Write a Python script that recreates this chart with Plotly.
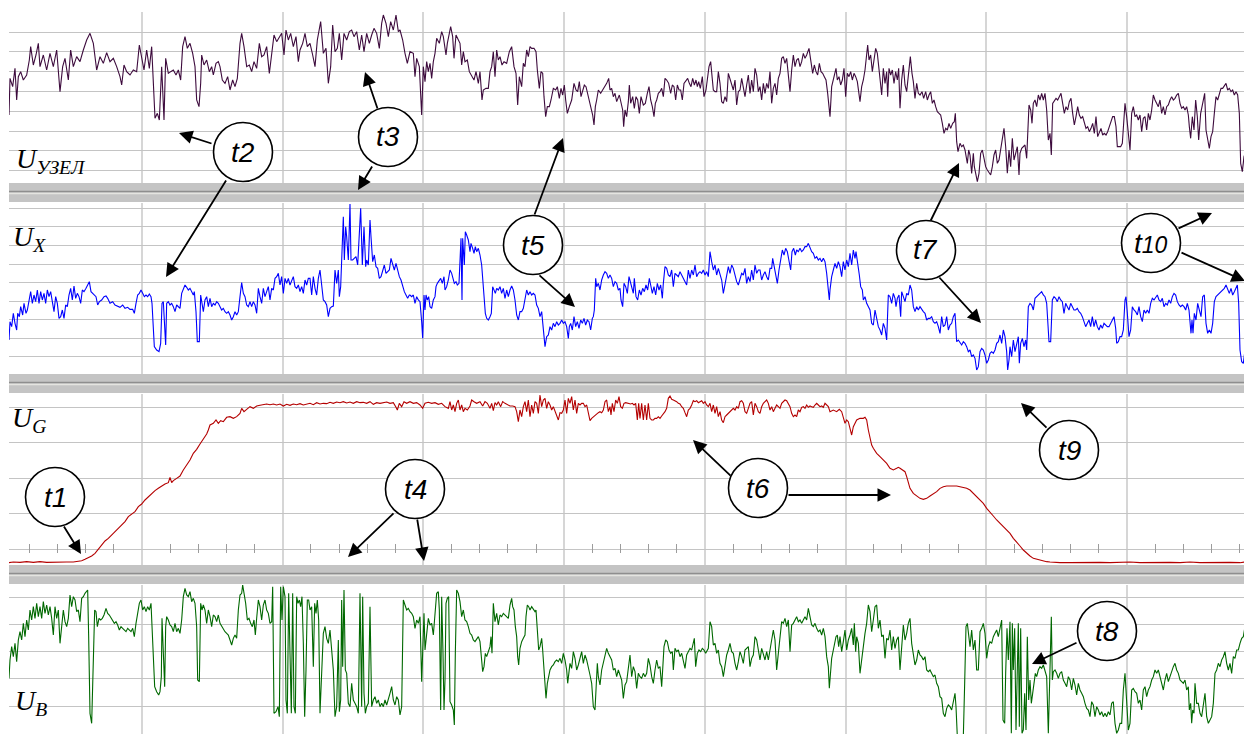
import plotly.graph_objects as go

# ---------------- data (time in samples, levels in arbitrary units) ----------------
UZEL = [(27,204),(30,314),(38,289),(45,344),(50,249),(55,319),(62,334),(70,309),(80,324),(88,369),(92,409),(100,354),(108,384),(115,419),(120,349),(130,384),(140,339),(150,389),(160,349),(170,399),(180,274),(188,349),(195,374),(205,309),(212,399),(220,349),(230,379),(240,364),(250,399),(260,429),(270,449),(280,419),(290,339),(300,379),(310,359),(320,391),(330,364),(340,374),(350,349),(360,319),(365,294),(372,354),(380,334),(390,324),(400,339),(410,334),(418,414),(425,379),(432,339),(440,399),(448,344),(455,409),(460,289),(465,194),(472,209),(478,189),(485,349),(492,189),(497,374),(505,329),(512,334),(520,339),(528,324),(535,339),(542,309),(548,409),(555,439),(562,404),(570,419),(578,389),(585,349),(590,249),(597,229),(602,299),(605,384),(612,354),(620,369),(628,334),(635,349),(640,324),(648,359),(655,364),(660,349),(667,309),(675,299),(683,319),(690,279),(698,309),(705,289),(712,314),(720,419),(725,449),(732,409),(740,349),(748,354),(755,334),(762,364),(770,344),(778,419),(785,379),(792,384),(800,409),(808,329),(815,389),(822,444),(830,424),(838,439),(845,449),(852,384),(858,459),(865,429),(872,449),(880,409),(888,439),(895,364),(900,399),(908,419),(915,449),(922,409),(930,419),(938,384),(945,349),(952,429),(962,484),(970,389),(978,404),(985,299),(992,349),(998,474),(1005,394),(1012,404),(1018,449),(1025,369),(1032,449),(1040,429),(1048,454),(1055,459),(1062,439),(1070,454),(1078,399),(1085,444),(1092,394),(1100,449),(1108,419),(1115,444),(1122,464),(1130,449),(1138,404),(1145,479),(1150,504),(1158,479),(1165,439),(1172,484),(1180,459),(1188,504),(1195,454),(1200,459),(1208,429),(1215,389),(1222,359),
(1230,394),(1240,389),(1245,319),(1250,374),(1258,349),(1265,204),(1270,349),(1275,304),(1280,364),(1285,334),(1290,359),(1295,314),(1300,364),(1305,389),(1310,434),(1318,419),(1325,454),(1330,439),(1338,384),(1342,419),(1348,449),(1352,469),(1358,439),(1362,374),(1368,444),(1375,429),(1380,419),(1385,354),(1390,394),(1395,364),(1402,369),(1408,334),(1415,319),(1422,309),(1428,334),(1435,299),(1440,334),(1446,249),(1450,279),(1458,284),(1465,284),(1470,334),(1475,349),(1480,394),(1485,319),(1490,399),(1495,369),(1500,379),(1506,354),(1512,364),(1520,359),(1528,394),(1535,409),(1542,349),(1548,329),(1553,234),(1558,319),(1565,289),(1570,359),(1575,349),(1580,399),(1585,379),(1590,409),(1595,404),(1602,404),(1608,394),(1612,339),(1618,284),(1623,334),(1628,329),(1632,259),(1637,199),(1642,229),(1648,229),(1653,249),(1660,284),(1667,279),(1672,289),(1678,254),(1683,284),(1688,264),(1693,294),(1697,249),(1702,209),(1708,229),(1715,249),(1722,299),(1728,279),(1733,274),(1738,304),(1743,259),(1748,274),(1753,294),(1758,289),(1763,269),(1768,249),(1773,224),(1778,204),(1782,174),(1786,229),(1790,249),(1795,279),(1802,269),(1808,279),(1813,289),(1820,299),(1826,314),(1830,279),(1835,284),(1840,259),(1845,269),(1850,244),(1858,264),(1863,244),(1868,219),(1871,169),(1875,219),(1880,199),(1885,244),(1888,294),(1892,239),(1898,259),(1903,224),(1908,259),(1913,249),(1918,209),(1923,259),(1930,234),(1936,239),(1942,269),(1947,289),(1952,249),(1957,229),(1962,199),(1966,239),(1970,249),(1975,269),(1980,274),(1985,284),(1990,259),(1995,314),(2000,309),(2006,299),(2012,269),(2017,294),(2022,289),(2027,249),(2032,294),(2037,279),(2042,279),(2047,249),(2052,299),(2058,309),(2063,314),(2068,299),(2073,289),(2078,314),(2083,294),(2088,309),(2092,289),(2096,304),(2101,284),(2107,319),(2112,259),(2118,279),(2123,314),(2127,349),(2132,364),(2136,324),(2140,279),(2145,274),(2150,274),(2155,334),(2160,299),(2165,244),(2170,239),(2175,259),(2180,244),(2185,329),(2190,314),(2195,299),(2200,279),(2205,309),(2210,234),(2215,274),(2220,279),(2225,314),(2230,284),(2235,259),(2240,294),(2245,324),(2250,269),(2255,309),(2260,274),(2265,344),(2270,324),(2275,274),(2280,289),(2285,249),(2290,299),(2295,269),(2300,299),(2305,284),(2310,334),(2315,239),(2320,284),(2325,299),(2330,264),(2335,314),(2340,329),(2345,374),(2350,379),(2355,359),(2360,374),(2365,314),(2370,274),(2375,339),(2380,384),(2385,349),(2390,369),(2395,374),(2400,349),(2405,364),(2410,389),(2415,374),(2420,384),(2427,404),(2433,369),(2438,329),(2443,354),(2448,334),(2453,324),(2458,359),(2463,334),(2468,329),(2473,319),(2478,309),(2483,269),(2488,204),
(2490,199),(2495,289),(2500,309),(2505,324),(2508,344),(2512,309),(2517,319),(2522,294),(2527,309),(2532,344),(2537,259),(2542,329),(2547,319),(2552,334),(2557,309),(2562,329),(2567,319),(2572,304),(2577,269),(2580,244),(2585,289),(2590,309),(2595,339),(2600,379),(2603,414),(2607,369),(2612,384),(2617,334),(2622,364),(2627,404),(2632,389),(2637,349),(2642,294),(2645,264),(2650,344),(2655,299),(2660,334),(2663,259),(2667,344),(2672,324),(2677,339),(2682,299),(2687,334),(2692,309),(2696,344),(2700,224),(2705,309),(2710,354),(2715,294),(2720,274),(2726,329),(2731,379),(2736,329),(2740,304),(2745,254),(2750,299),(2755,269),(2760,264),(2766,274),(2771,254),(2777,274),(2782,249),(2787,264),(2792,274),(2797,239),(2802,249),(2807,229),(2812,214),(2817,209),(2822,204),(2827,179),(2832,149),(2837,164),(2842,159),(2847,179),(2852,164),(2858,179),(2863,184),(2866,209),(2870,124),(2874,94),(2880,119),(2885,109),(2890,114),(2895,99),(2898,79),(2902,59),(2906,99),(2910,84),(2915,29),(2920,89),(2923,49),(2927,24),(2932,4),(2937,29),(2942,89),(2947,99),(2952,74),(2957,49),(2962,39),(2968,29),(2972,24),(2977,49),(2982,84),(2987,99),(2992,59),(2997,69),(3002,104),(3007,134),(3012,164),(3017,109),(3022,29),(3027,99),(3032,49),(3037,134),(3042,69),(3047,89),(3052,109),(3057,24),(3060,89),(3065,104),(3070,109),(3075,114),(3080,74),(3083,149),(3087,234),(3092,219),(3096,179),(3100,239),(3105,249),(3110,229),(3115,264),(3120,249),(3125,269),(3130,249),(3135,269),(3140,219),(3145,129),(3150,149),(3154,84),(3158,239),(3163,249),(3168,254),(3173,249),(3178,259),(3183,269),(3188,239),(3193,209),(3198,229),(3203,219),(3208,244),(3213,254),(3218,209),(3223,174),(3228,199),(3233,229),(3238,204),(3243,194),(3248,199),(3253,179),(3258,164),(3263,169),(3268,154),(3273,164),(3278,179),(3283,149),(3288,199),(3293,139),(3298,154),(3303,164),(3308,144),(3313,149),(3318,144),(3323,154),(3328,169),(3333,184),(3338,199),(3343,199),(3348,169),(3352,109),(3357,109),(3362,109),(3367,119),(3372,209),(3375,239),(3380,199),(3385,149),(3390,99),(3395,209),(3400,229),(3405,199),(3410,204),(3415,189),(3420,204),(3425,154),(3430,194),(3435,199),(3440,159),(3445,209),(3450,189),(3455,219),(3460,264),(3465,249),(3470,239),(3475,229),(3480,249),(3485,209),(3490,229),(3495,204),(3500,229),(3505,234),(3510,249),(3515,259),(3520,249),(3525,254),(3530,264),(3535,269),(3540,239),(3545,224),(3550,229),(3555,219),(3560,229),(3565,204),(3568,169),(3572,134),(3577,199),(3582,159),(3587,249),(3592,199),(3596,129),(3602,209),(3608,239),(3614,269),(3618,159),(3623,129),(3628,104),(3633,139),(3638,154),(3643,209),(3648,259),(3653,249),(3658,264),(3663,284),(3668,284),(3673,294),(3678,299),(3683,279),(3688,284),(3693,274),(3698,279),(3703,264),(3708,274),(3713,264),(3718,209),(3722,59),(3727,34),(3732,79),(3737,94),(3742,139),(3747,239),(3752,229),(3756,204)]

UX = [(27,102),(30,157),(35,142),(40,182),(45,152),(50,132),(53,182),(58,172),(62,202),(68,177),(72,212),(78,182),(82,192),(88,232),(92,247),(97,212),(102,237),(107,217),(112,252),(117,212),(122,247),(127,222),(132,242),(137,212),(142,252),(147,232),(152,247),(157,217),(162,187),(167,232),(172,212),(177,167),(182,172),(187,192),(192,167),(197,207),(202,202),(207,237),(212,257),(217,222),(222,264),(227,227),(232,242),(237,232),(242,212),(247,252),(252,247),(258,257),(263,267),(268,277),(273,247),(278,242),(283,237),(288,232),(293,207),(298,217),(305,222),(312,232),(318,234),(323,227),(330,212),(338,217),(345,207),(352,204),(360,200),(368,207),(375,197),(383,200),(390,194),(398,194),(403,182),(408,212),(413,237),(418,242),(423,252),(428,242),(433,232),(438,237),(443,232),(448,240),(453,232),(456,212),(460,152),(463,82),(470,72),(477,67),(482,92),(486,212),(490,217),(494,152),(497,87),(500,212),(505,217),(510,207),(515,212),(520,202),(525,187),(530,207),(535,202),(540,197),(545,242),(550,257),(555,267),(560,260),(565,252),(570,257),(575,244),(580,237),(583,247),(588,187),(592,97),(598,97),(602,237),(605,217),(610,187),(615,222),(620,232),(625,202),(630,227),(635,202),(640,212),(645,207),(650,217),(655,212),(660,202),(665,192),(670,197),(675,187),(680,182),(685,187),(690,177),(695,162),(700,172),(705,187),(710,177),(715,187),(720,232),(725,274),(730,242),(735,232),(740,207),(745,202),(750,217),(755,202),(760,217),(765,207),(770,182),(775,257),(780,232),(785,212),(790,257),(795,232),(800,247),(805,262),(810,222),(815,257),(820,252),(825,287),(830,292),(835,302),(840,267),(845,292),(850,242),(855,287),(860,272),(865,287),(870,267),(875,282),(880,292),(885,262),(890,257),(895,267),(900,247),(905,262),(910,242),(915,282),(920,267),(925,287),(930,287),(935,237),(940,292),(945,257),(950,237),(955,287),(960,312),(965,267),(970,222),(975,217),(980,207),(985,172),(990,197),(995,202),(1000,204),(1005,312),(1010,272),(1015,312),(1018,232),(1022,262),(1027,367),(1030,472),(1033,342),(1037,442),(1040,412),(1045,342),(1050,510),(1053,342),(1058,342),(1063,347),(1068,352),(1073,327),(1078,407),(1082,497),(1087,327),(1092,442),(1097,322),(1100,342),(1105,327),(1110,462),(1113,412),(1118,337),(1123,357),(1128,322),(1133,317),(1138,287),(1143,292),(1148,312),(1153,327),(1158,302),(1163,307),(1168,312),(1173,347),(1178,332),(1183,312),(1188,332),(1193,312),(1198,292),(1203,282),(1208,262),(1213,247),(1218,237),(1223,227),(1228,237),
(1230,237),(1235,232),(1240,237),(1245,212),(1250,232),(1255,222),(1260,217),(1265,157),(1268,107),(1272,237),(1275,192),(1278,237),(1282,222),(1286,232),(1290,202),(1295,197),(1300,222),(1305,232),(1308,262),(1312,272),(1317,282),(1322,287),(1327,272),(1332,292),(1335,252),(1340,262),(1345,282),(1350,312),(1355,302),(1360,287),(1363,272),(1368,277),(1372,267),(1377,272),(1380,322),(1383,407),(1386,222),(1388,407),(1393,327),(1396,427),(1400,417),(1405,402),(1410,367),(1413,392),(1418,377),(1422,362),(1426,382),(1430,367),(1435,377),(1440,357),(1445,327),(1448,287),(1452,257),(1456,182),(1460,167),(1465,162),(1470,172),(1474,182),(1478,262),(1482,252),(1486,242),(1490,257),(1495,252),(1500,262),(1505,242),(1510,257),(1515,227),(1520,252),(1525,232),(1530,252),(1535,264),(1540,252),(1545,222),(1550,177),(1555,162),(1560,187),(1565,187),(1570,197),(1575,222),(1580,252),(1585,237),(1590,247),(1595,237),(1600,242),(1605,237),(1610,207),(1615,197),(1620,172),(1625,187),(1630,142),(1635,82),(1640,112),(1645,117),(1650,142),(1655,132),(1660,152),(1665,142),(1670,157),(1675,147),(1680,152),(1685,162),(1690,152),(1695,157),(1700,142),(1705,107),(1708,142),(1712,152),(1717,132),(1722,172),(1727,142),(1732,157),(1737,137),(1742,162),(1747,152),(1752,167),(1757,147),(1762,162),(1767,157),(1772,132),(1777,167),(1780,172),(1783,192),(1787,287),(1790,262),(1795,272),(1800,252),(1805,282),(1810,297),(1815,307),(1820,302),(1825,287),(1830,297),(1835,287),(1840,262),(1845,277),(1850,272),(1855,252),(1860,257),(1863,222),(1868,202),(1872,272),(1877,262),(1882,242),(1887,292),(1890,282),(1895,262),(1900,242),(1903,287),(1908,232),(1913,222),(1918,252),(1923,237),(1928,257),(1933,247),(1938,267),(1943,252),(1948,287),(1952,267),(1957,242),(1962,262),(1967,237),(1972,272),(1977,252),(1982,267),(1987,227),(1990,272),(1995,322),(2000,317),(2005,297),(2010,292),(2015,312),(2020,262),(2025,302),(2030,297),(2035,292),(2040,307),(2045,297),(2050,292),(2055,282),(2060,267),(2065,312),(2070,287),(2075,312),(2080,297),(2085,327),(2090,292),(2095,302),(2100,307),(2105,302),(2110,312),(2115,297),(2120,307),(2125,292),(2130,367),(2135,337),(2140,312),(2145,327),(2150,297),(2155,317),(2160,302),(2165,282),(2170,242),(2175,272),(2180,297),(2185,322),(2190,302),(2195,327),(2200,317),(2205,292),(2210,277),(2215,267),(2220,287),(2225,302),(2230,297),(2235,317),(2240,272),(2245,292),(2250,277),(2255,312),(2260,282),(2265,327),(2270,302),(2275,312),(2280,312),(2285,282),(2290,297),(2295,307),(2300,292),(2305,282),(2310,317),(2315,317),(2318,347),(2322,322),(2327,292),(2332,272),(2337,312),(2342,342),(2347,372),(2352,357),(2357,377),(2362,367),(2367,342),(2372,312),(2376,367),(2381,377),(2386,357),(2390,372),(2395,367),(2400,377),(2405,367),(2410,372),(2415,382),(2420,382),(2425,392),(2430,377),(2435,367),(2440,362),(2445,347),(2450,352),(2455,342),(2460,347),(2465,337),(2470,347),(2475,337),(2480,302),(2485,262),(2488,222),
(2490,252),(2495,292),(2500,312),(2505,332),(2510,317),(2515,337),(2520,322),(2525,292),(2530,337),(2535,312),(2540,342),(2545,322),(2550,362),(2555,327),(2560,372),(2565,347),(2568,367),(2573,322),(2578,297),(2582,262),(2587,252),(2590,222),(2595,232),(2600,212),(2605,202),(2610,192),(2615,152),(2620,147),(2625,192),(2630,167),(2635,142),(2640,132),(2645,117),(2650,152),(2655,137),(2660,102),(2665,237),(2670,232),(2675,212),(2680,242),(2685,227),(2688,202),(2692,227),(2697,237),(2702,172),(2705,247),(2710,232),(2715,217),(2720,242),(2725,237),(2730,267),(2735,252),(2740,202),(2745,187),(2750,202),(2755,192),(2760,202),(2765,192),(2770,187),(2775,182),(2780,162),(2785,167),(2790,167),(2795,172),(2800,157),(2805,152),(2810,157),(2815,142),(2820,122),(2825,172),(2830,142),(2835,147),(2840,172),(2845,132),(2850,147),(2855,152),(2860,172),(2865,182),(2870,97),(2875,102),(2880,92),(2885,87),(2890,97),(2895,92),(2900,82),(2905,67),(2910,72),(2915,52),(2920,57),(2925,47),(2930,12),(2935,22),(2940,67),(2945,77),(2950,72),(2955,57),(2960,32),(2965,42),(2970,62),(2975,67),(2980,62),(2985,72),(2990,92),(2995,97),(3000,117),(3005,92),(3010,132),(3015,112),(3020,67),(3023,12),(3027,42),(3030,82),(3035,52),(3040,102),(3045,67),(3050,92),(3055,112),(3058,32),(3062,92),(3067,107),(3072,82),(3077,102),(3080,72),(3085,202),(3090,212),(3095,207),(3100,192),(3105,227),(3110,232),(3115,237),(3120,242),(3125,247),(3130,237),(3135,232),(3140,212),(3143,142),(3147,97),(3152,97),(3157,222),(3162,232),(3167,227),(3172,217),(3177,232),(3182,222),(3187,217),(3192,182),(3197,212),(3202,202),(3207,192),(3212,212),(3217,202),(3222,192),(3227,192),(3232,197),(3237,187),(3242,182),(3247,172),(3252,157),(3257,142),(3262,152),(3267,162),(3272,142),(3277,172),(3282,142),(3287,162),(3292,142),(3297,132),(3302,147),(3307,137),(3312,152),(3317,147),(3322,142),(3327,142),(3332,152),(3337,162),(3342,172),(3347,137),(3350,92),(3355,97),(3360,112),(3365,112),(3370,132),(3375,222),(3378,232),(3382,182),(3387,112),(3392,132),(3397,202),(3402,192),(3407,187),(3412,177),(3417,202),(3422,172),(3427,157),(3432,192),(3437,182),(3442,192),(3447,182),(3452,212),(3457,227),(3462,222),(3467,232),(3472,237),(3477,222),(3482,217),(3487,227),(3492,202),(3497,212),(3502,207),(3507,222),(3512,212),(3517,232),(3522,242),(3527,237),(3532,217),(3537,207),(3542,202),(3547,207),(3552,202),(3557,192),(3562,212),(3567,192),(3570,152),(3573,122),(3576,162),(3579,122),(3583,182),(3588,162),(3593,212),(3598,192),(3603,172),(3608,232),(3613,237),(3618,152),(3623,122),(3628,132),(3633,122),(3638,152),(3643,217),(3648,232),(3653,237),(3658,242),(3663,247),(3668,252),(3673,257),(3678,267),(3683,252),(3688,242),(3693,257),(3698,237),(3703,247),(3708,257),(3712,267),(3716,212),(3720,72),(3725,37),(3730,32),(3735,72),(3740,77),(3745,202),(3752,227),(3756,232)]

UG = [(27,7),(40,9),(60,8),(80,10),(100,8),(120,10),(140,8),(160,9),(180,8),(200,9),(220,9),(235,11),(245,13),(255,17),(265,22),(275,27),(285,35),(295,48),(305,60),(315,72),(325,80),(335,90),(345,97),(355,107),(365,120),(375,130),(385,145),(395,153),(405,160),(415,175),(425,183),(435,195),(445,205),(455,213),(465,223),(475,230),(485,237),(495,243),(505,247),(510,263),(515,247),(520,253),(530,260),(540,267),(550,285),(560,300),(570,315),(580,335),(590,347),(600,363),(610,377),(620,393),(625,405),(630,420),(640,425),(648,435),(655,425),(662,433),(670,430),(680,443),(690,445),(700,440),(710,445),(720,455),(725,470),(732,460),(740,467),(750,475),(760,470),(770,477),(780,479),(790,482),(800,483),(810,481),(820,483),(830,480),(840,483),(850,477),(860,482),(870,479),(880,483),(890,481),(900,484),(910,480),(920,482),(930,485),(940,481),(950,487),(960,483),(970,485),(980,484),(990,488),(1000,485),(1010,489),(1020,487),(1030,490),(1040,486),(1050,489),(1060,485),(1070,490),(1080,487),(1090,488),(1100,485),(1110,490),(1120,482),(1130,487),(1140,485),(1150,488),(1160,489),(1170,485),(1180,487),(1188,473),(1192,465),(1198,485),(1205,475),(1212,490),(1220,485),
(1230,490),(1240,485),(1250,487),(1260,480),(1268,470),(1275,485),(1285,488),(1295,485),(1305,487),(1315,482),(1325,485),(1335,475),(1345,470),(1350,490),(1355,465),(1360,480),(1365,460),(1370,485),(1375,495),(1380,465),(1385,480),(1390,460),(1395,470),(1402,465),(1410,477),(1415,495),(1422,490),(1430,485),(1440,490),(1448,477),(1455,490),(1462,485),(1470,470),(1475,485),(1480,463),(1485,487),(1490,480),(1495,490),(1502,475),(1508,490),(1515,485),(1522,480),(1530,477),(1538,477),(1545,475),(1550,460),(1555,430),(1560,465),(1565,445),(1570,475),(1575,490),(1580,460),(1585,495),(1590,445),(1595,480),(1600,455),(1605,490),(1610,485),(1615,455),(1620,510),(1625,475),(1630,495),(1635,500),(1640,470),(1645,490),(1650,480),(1655,465),(1660,475),(1665,460),(1670,445),(1675,435),(1680,457),(1685,455),(1690,465),(1695,495),(1700,455),(1705,500),(1710,485),(1715,505),(1720,465),(1725,495),(1730,455),(1735,485),(1740,480),(1745,485),(1750,485),(1755,475),(1760,480),(1765,455),(1770,433),(1775,440),(1780,445),(1785,450),(1790,453),(1795,457),(1800,460),(1805,457),(1810,465),(1815,490),(1820,495),(1825,460),(1830,475),(1833,450),(1837,485),(1842,460),(1847,495),(1852,485),(1857,505),(1862,475),(1867,470),(1872,485),(1877,487),(1882,485),(1887,485),(1892,483),(1897,485),(1902,480),(1907,485),(1912,435),(1916,485),(1920,440),(1925,485),(1930,435),(1935,480),(1940,435),(1945,485),(1950,440),(1955,435),(1960,435),(1965,440),(1970,440),(1975,445),(1980,440),(1985,447),(1990,453),(1995,460),(2000,470),(2005,500),(2010,507),(2015,497),(2020,495),(2025,493),(2030,490),(2035,485),(2040,483),(2045,475),(2050,470),(2055,457),(2060,445),(2065,465),(2070,470),(2075,480),(2080,493),(2085,490),(2090,493),(2095,487),(2100,490),(2105,493),(2110,485),(2115,490),(2120,480),(2125,475),(2130,485),(2135,460),(2140,480),(2145,455),(2150,475),(2155,445),(2160,460),(2165,435),(2170,427),(2175,445),(2180,450),(2185,455),(2190,463),(2195,465),(2200,470),(2205,465),(2210,475),(2215,470),(2220,490),(2225,493),(2230,485),(2235,460),(2240,455),(2245,470),(2250,485),(2255,490),(2260,450),(2265,485),(2270,475),(2275,460),(2280,455),(2285,475),(2290,485),(2295,490),(2300,495),(2305,485),(2310,465),(2315,475),(2320,460),(2325,470),(2330,480),(2335,475),(2340,470),(2345,485),(2350,490),(2355,495),(2360,493),(2365,485),(2370,475),(2375,455),(2380,445),(2385,450),(2390,445),(2395,465),(2400,460),(2405,473),(2410,475),(2415,470),(2420,480),(2425,473),(2430,477),(2435,475),(2440,473),(2445,480),(2450,485),(2455,480),(2460,475),(2465,477),(2470,473),(2475,485),(2480,480),(2485,475),
(2490,460),(2500,465),(2510,460),(2518,467),(2525,460),(2530,445),(2535,425),(2540,435),(2545,430),(2550,410),(2555,390),(2560,415),(2565,425),(2570,435),(2580,440),(2590,440),(2595,443),(2600,435),(2605,405),(2610,385),(2615,360),(2620,350),(2630,335),(2640,325),(2650,315),(2660,305),(2670,290),(2680,285),(2690,290),(2695,293),(2700,290),(2710,285),(2715,280),(2720,265),(2725,245),(2730,230),(2740,215),(2750,207),(2760,200),(2770,197),(2780,200),(2790,207),(2800,213),(2810,220),(2820,230),(2830,235),(2840,237),(2850,237),(2860,239),(2870,237),(2880,235),(2890,233),(2900,230),(2910,225),(2920,215),(2930,205),(2940,195),(2950,185),(2960,170),(2970,160),(2980,147),(2990,135),(3000,125),(3010,115),(3020,103),(3030,95),(3040,80),(3050,67),(3060,57),(3070,45),(3080,35),(3090,27),(3100,20),(3110,17),(3120,15),(3130,13),(3140,10),(3150,9),(3160,8),(3180,7),(3210,7),(3240,8),(3270,7),(3300,8),(3330,7),(3360,8),(3390,9),(3420,7),(3450,8),(3480,7),(3510,8),(3540,7),(3570,9),(3600,7),(3630,8),(3660,7),(3690,8),(3720,7),(3740,10),(3756,7)]

UB = [(27,167),(30,222),(35,262),(40,232),(45,272),(50,217),(55,282),(60,307),(65,282),(70,332),(75,292),(80,342),(85,312),(90,372),(95,342),(100,382),(105,347),(110,392),(115,352),(120,382),(125,347),(130,397),(135,362),(140,387),(145,357),(150,382),(155,347),(160,297),(165,382),(170,347),(175,372),(180,272),(185,322),(190,372),(195,337),(200,322),(205,347),(210,417),(215,382),(220,412),(225,402),(230,367),(235,372),(240,337),(245,407),(250,412),(255,422),(260,427),(263,432),(266,292),(270,62),(275,32),(280,262),(284,372),(288,367),(292,322),(297,347),(302,342),(307,347),(312,357),(318,377),(323,362),(328,357),(333,347),(338,342),(343,332),(348,337),(353,327),(358,312),(363,322),(368,317),(373,312),(378,307),(383,317),(388,312),(393,307),(398,317),(403,292),(408,332),(413,362),(418,392),(423,402),(428,372),(433,382),(438,367),(443,382),(448,372),(453,392),(456,322),(460,252),(464,142),(470,127),(476,117),(480,127),(484,172),(486,347),(490,252),(494,142),(497,322),(500,352),(505,342),(510,327),(515,322),(520,307),(525,332),(530,307),(535,317),(540,302),(545,342),(550,412),(555,437),(560,417),(565,412),(570,427),(575,397),(580,407),(585,392),(590,322),(593,162),(598,157),(602,392),(606,372),(610,387),(615,372),(620,332),(625,372),(630,352),(635,322),(640,357),(645,352),(650,337),(655,357),(660,332),(665,322),(670,312),(675,307),(680,302),(685,297),(690,282),(695,267),(700,287),(705,297),(710,287),(715,372),(720,417),(725,422),(728,447),(732,422),(737,392),(742,342),(747,347),(752,332),(757,322),(762,342),(766,297),(770,347),(775,402),(780,382),(785,342),(790,387),(795,402),(800,372),(805,362),(810,332),(815,337),(818,442),(822,62),(828,67),(834,82),(838,52),(842,442),(846,342),(850,442),(855,412),(858,102),(862,62),(866,422),(870,242),(874,62),(878,422),(882,82),(886,62),(890,412),(894,392),(898,402),(902,382),(906,412),(910,272),(914,52),(918,192),(922,402),(926,402),(930,372),(935,382),(940,202),(944,392),(948,362),(952,402),(956,342),(960,62),(965,192),(970,302),(975,322),(980,287),(985,272),(990,312),(995,252),(1000,192),(1005,52),(1010,82),(1015,282),(1018,67),(1022,102),(1025,402),(1028,202),(1032,432),(1036,192),(1040,182),(1045,92),(1050,82),(1055,152),(1060,102),(1065,92),(1070,82),(1075,62),(1080,422),(1085,82),(1088,412),(1092,122),(1096,62),(1100,82),(1105,92),(1110,382),(1115,82),(1120,102),(1125,112),(1130,92),(1135,102),(1140,82),(1145,92),(1150,82),(1155,102),(1160,87),(1165,102),(1170,122),(1175,142),(1180,102),(1185,87),(1190,112),(1195,102),(1200,57),(1205,82),(1210,402),(1215,387),(1220,372),(1225,377),
(1230,367),(1235,362),(1240,352),(1245,317),(1250,342),(1255,332),(1260,352),(1265,157),(1268,252),(1272,362),(1275,252),(1280,292),(1285,347),(1290,327),(1295,332),(1300,297),(1305,362),(1310,422),(1315,427),(1318,372),(1322,72),(1325,412),(1329,242),(1332,72),(1335,162),(1338,392),(1342,407),(1346,412),(1350,97),(1355,87),(1360,72),(1363,27),(1366,242),(1370,432),(1375,422),(1380,397),(1385,352),(1390,372),(1395,342),(1400,337),(1405,322),(1410,302),(1415,297),(1420,282),(1425,277),(1430,287),(1435,292),(1440,277),(1445,232),(1448,187),(1452,202),(1456,242),(1460,232),(1465,247),(1470,262),(1473,292),(1476,242),(1480,392),(1485,337),(1490,362),(1495,327),(1500,357),(1505,352),(1510,362),(1515,357),(1520,352),(1525,347),(1530,387),(1535,407),(1538,382),(1542,372),(1546,322),(1550,292),(1553,232),(1556,207),(1560,257),(1565,277),(1570,287),(1575,297),(1578,352),(1582,387),(1586,382),(1590,372),(1595,382),(1600,372),(1605,367),(1608,372),(1612,312),(1616,252),(1620,262),(1625,287),(1628,252),(1632,202),(1635,142),(1638,107),(1642,152),(1646,172),(1650,192),(1655,202),(1660,207),(1665,217),(1670,222),(1675,217),(1680,227),(1685,212),(1690,242),(1695,222),(1700,192),(1703,152),(1707,182),(1710,212),(1715,197),(1720,247),(1725,227),(1730,192),(1735,207),(1740,232),(1745,247),(1750,212),(1755,237),(1760,222),(1765,202),(1770,177),(1775,152),(1780,82),(1785,72),(1788,132),(1792,212),(1795,172),(1800,147),(1805,192),(1810,217),(1815,232),(1820,257),(1825,242),(1830,232),(1835,222),(1840,192),(1845,197),(1850,172),(1855,192),(1860,177),(1865,162),(1870,107),(1875,147),(1880,157),(1885,192),(1890,237),(1895,172),(1900,202),(1905,187),(1910,137),(1915,182),(1920,172),(1925,167),(1930,182),(1935,172),(1940,182),(1945,227),(1950,207),(1955,172),(1960,152),(1965,192),(1970,222),(1975,197),(1980,202),(1985,142),(1988,192),(1992,262),(1997,282),(2002,277),(2007,252),(2012,242),(2017,247),(2020,192),(2025,257),(2030,247),(2035,252),(2040,232),(2045,242),(2050,222),(2055,197),(2060,237),(2065,247),(2070,257),(2075,252),(2080,272),(2083,287),(2087,202),(2092,242),(2097,252),(2102,247),(2107,257),(2112,252),(2117,242),(2122,252),(2125,257),(2130,337),(2135,322),(2140,267),(2145,272),(2150,242),(2155,252),(2160,212),(2165,202),(2170,172),(2175,207),(2180,237),(2185,252),(2190,272),(2195,247),(2200,242),(2205,212),(2210,192),(2215,217),(2220,247),(2225,232),(2230,212),(2235,252),(2240,257),(2245,262),(2250,202),(2255,227),(2260,237),(2265,292),(2270,282),(2275,247),(2280,222),(2285,257),(2290,237),(2295,222),(2300,247),(2305,222),(2310,252),(2315,277),(2320,312),(2325,282),(2330,192),(2335,242),(2340,282),(2345,337),(2350,332),(2355,347),(2360,322),(2365,342),(2370,247),(2375,327),(2380,332),(2385,342),(2390,352),(2395,337),(2400,342),(2405,332),(2410,342),(2415,352),(2420,342),(2425,377),(2430,352),(2435,327),(2440,322),(2445,332),(2450,317),(2455,307),(2460,312),(2465,297),(2470,317),(2475,292),(2480,232),(2485,202),(2488,137),
(2490,157),(2495,227),(2500,252),(2505,277),(2508,292),(2512,297),(2516,262),(2520,292),(2525,247),(2530,277),(2535,312),(2540,252),(2545,282),(2550,297),(2555,317),(2560,267),(2563,332),(2567,247),(2570,292),(2575,272),(2580,182),(2585,222),(2590,272),(2595,302),(2600,332),(2605,387),(2610,367),(2615,307),(2620,342),(2625,382),(2630,387),(2635,317),(2640,342),(2645,292),(2650,297),(2655,227),(2660,287),(2665,282),(2670,312),(2675,252),(2680,292),(2685,257),(2690,282),(2695,292),(2700,192),(2705,277),(2710,327),(2715,282),(2720,302),(2725,332),(2730,347),(2735,272),(2740,242),(2745,207),(2750,222),(2755,252),(2760,237),(2765,232),(2770,222),(2775,232),(2780,192),(2785,187),(2790,192),(2795,182),(2800,172),(2805,177),(2810,152),(2815,142),(2820,112),(2825,107),(2830,62),(2835,52),(2840,77),(2845,87),(2850,82),(2855,72),(2860,97),(2865,122),(2868,82),(2872,-8),(2876,-3),(2890,-8),(2894,152),(2898,322),(2902,332),(2906,302),(2910,262),(2915,312),(2920,252),(2925,282),(2930,192),(2935,192),(2940,307),(2945,317),(2950,332),(2955,302),(2960,227),(2965,262),(2970,277),(2975,272),(2980,292),(2985,302),(2990,312),(2995,292),(3000,322),(3005,342),(3009,42),(3014,32),(3017,182),(3021,317),(3025,222),(3030,337),(3034,2),(3037,332),(3040,192),(3044,317),(3048,12),(3052,187),(3055,332),(3058,22),(3062,317),(3066,2),(3070,12),(3074,122),(3078,12),(3082,292),(3086,102),(3090,162),(3094,92),(3098,122),(3102,147),(3106,182),(3110,172),(3115,192),(3120,202),(3125,197),(3130,207),(3135,192),(3140,172),(3145,2),(3150,162),(3154,352),(3157,162),(3160,187),(3165,192),(3170,182),(3175,167),(3180,182),(3185,187),(3190,162),(3195,152),(3200,142),(3205,172),(3210,162),(3215,132),(3220,167),(3225,147),(3230,117),(3235,152),(3240,132),(3245,122),(3250,112),(3255,92),(3260,77),(3265,72),(3270,52),(3275,97),(3280,87),(3285,52),(3290,82),(3295,72),(3300,57),(3305,67),(3310,52),(3315,62),(3320,52),(3325,67),(3330,57),(3335,92),(3340,97),(3345,32),(3350,2),(3355,12),(3360,32),(3365,32),(3370,132),(3375,182),(3380,102),(3385,12),(3390,32),(3395,132),(3400,137),(3405,127),(3410,122),(3415,92),(3420,102),(3425,72),(3430,132),(3435,142),(3440,112),(3445,132),(3450,142),(3455,162),(3460,172),(3465,192),(3470,182),(3475,192),(3480,172),(3485,147),(3490,132),(3495,162),(3500,182),(3505,157),(3510,172),(3515,192),(3520,202),(3525,212),(3530,192),(3535,182),(3540,162),(3545,157),(3550,152),(3555,162),(3560,132),(3565,142),(3568,72),(3572,92),(3575,32),(3578,72),(3582,62),(3585,152),(3590,92),(3595,92),(3600,62),(3605,52),(3610,92),(3615,122),(3620,52),(3625,32),(3630,42),(3635,52),(3640,92),(3645,182),(3650,192),(3655,212),(3660,202),(3665,222),(3670,232),(3675,247),(3680,212),(3685,192),(3690,212),(3695,182),(3700,232),(3705,227),(3710,252),(3715,252),(3720,272),(3725,287),(3730,292),(3735,322),(3740,332),(3745,202),(3750,152),(3756,182)]

SERIES_NAMES = ["U_УЗЕЛ", "U_X", "U_G", "U_B"]
LABELS = ["<i>U<sub>УЗЕЛ</sub></i>", "<i>U<sub>X</sub></i>", "<i>U<sub>G</sub></i>", "<i>U<sub>B</sub></i>"]
CALLOUT_TEXT = ["t1", "t2", "t3", "t4", "t5", "t6", "t7", "t8", "t9", "t10"]

# ---------------- layout / style (positions given in window pixels) ----------------
WIN_W, WIN_H = 1252, 734
PAGE_OFFSET = 8                       # default body margin of the html page
W, H = WIN_W - PAGE_OFFSET, WIN_H - PAGE_OFFSET
X_LEFT = 9
T_RANGE = [27, 3756]
GRID_T0, GRID_DT = 426, 422.14
PANELS = [(12, 183), (203, 374), (394, 565), (585, 734)]     # top, bottom px
V_RANGES = [513, 513, 513, 447]
GRID_V = [(37, 59.375), (52, 55.6), (48, 106.25), (2.5, 81.5)]
COLORS = ["#3d0b3d", "#0000ff", "#b40000", "#006800"]
SEPARATORS = [183, 374, 565]
LABEL_POS = [(14, 161), (11, 239), (10, 420), (13, 702)]
CIRCLES = [(55, 497), (243, 152), (388, 137), (415, 489), (533, 245),
           (758, 488), (926, 250), (1107, 631), (1069, 450), (1151, 243)]
R = 29.5
ARROWS = [((63, 525), (81, 554)), ((213, 144), (179, 133)), ((227, 179), (166, 277)),
          ((378, 110), (365, 72)), ((373, 165), (358, 190)), ((395, 512), (348, 557)),
          ((417, 518), (424, 561)), ((534, 216), (563, 138)), ((538, 274), (575, 307)),
          ((732, 477), (693, 440)), ((787, 495), (891, 495)), ((930, 222), (959, 163)),
          ((938, 276), (981, 323)), ((1078, 642), (1032, 664)), ((1048, 429), (1021, 403)),
          ((1177, 229), (1212, 213)), ((1180, 252), (1245, 281))]
TICK_ROW_Y = 553.3


def px(x):
    return (x - PAGE_OFFSET) / W


def py(y):
    return 1 - (y - PAGE_OFFSET) / H


fig = go.Figure()
layout = dict(width=W, height=H, margin=dict(l=0, r=0, t=0, b=0),
              paper_bgcolor="white", plot_bgcolor="white", showlegend=False,
              hovermode=False)

for i, (data, name) in enumerate(zip([UZEL, UX, UG, UB], SERIES_NAMES)):
    sfx = "" if i == 0 else str(i + 1)
    t = [p[0] for p in data]
    v = [p[1] for p in data]
    fig.add_trace(go.Scatter(x=t, y=v, mode="lines", name=name,
                             line=dict(color=COLORS[i], width=1.1),
                             xaxis="x" + sfx, yaxis="y" + sfx))
    top, bot = PANELS[i]
    layout["yaxis" + sfx] = dict(domain=[max(0, py(bot)), py(top)], range=[0, V_RANGES[i]],
                                 tickmode="linear", tick0=GRID_V[i][0], dtick=GRID_V[i][1],
                                 showgrid=True, gridcolor="#c4c4c4", gridwidth=1.2,
                                 showticklabels=False, ticks="", zeroline=False,
                                 showline=False, anchor="x" + sfx)
    xa = dict(domain=[px(X_LEFT), 1], range=T_RANGE, tickmode="linear",
              tick0=GRID_T0, dtick=GRID_DT, showgrid=True, gridcolor="#d6d6d6",
              gridwidth=2, showticklabels=False, ticks="", zeroline=False,
              showline=False, anchor="y" + sfx)
    if i > 0:
        xa["matches"] = "x"
    if i == 2:
        xa["anchor"] = "free"
        xa["position"] = py(TICK_ROW_Y)
        xa["minor"] = dict(ticks="inside", ticklen=9, tickwidth=1, tickcolor="#9c9c9c",
                           tick0=GRID_T0, dtick=GRID_DT / 5, showgrid=False)
    layout["xaxis" + sfx] = xa

shapes = []
for top in SEPARATORS:
    shapes.append(dict(type="rect", xref="paper", yref="paper", x0=px(X_LEFT), x1=1,
                       y0=py(top + 19), y1=py(top), fillcolor="#c4c4c4",
                       line=dict(width=0)))
    shapes.append(dict(type="line", xref="paper", yref="paper", x0=px(X_LEFT), x1=1,
                       y0=py(top + 8.5), y1=py(top + 8.5),
                       line=dict(color="#8e8e8e", width=1.6)))
    shapes.append(dict(type="line", xref="paper", yref="paper", x0=px(X_LEFT), x1=1,
                       y0=py(top + 10.5), y1=py(top + 10.5),
                       line=dict(color="#e4e4e0", width=1.5)))
for cx, cy in CIRCLES:
    shapes.append(dict(type="circle", xref="paper", yref="paper",
                       x0=px(cx - R), x1=px(cx + R), y0=py(cy + R), y1=py(cy - R),
                       fillcolor="white", line=dict(color="black", width=1.6)))
layout["shapes"] = shapes

ann = []
for lab, (lx, ly) in zip(LABELS, LABEL_POS):
    ann.append(dict(text=lab, xref="paper", yref="paper", x=px(lx), y=py(ly),
                    xanchor="left", yanchor="middle", showarrow=False,
                    font=dict(family="Liberation Serif", size=28, color="black")))
for txt, (cx, cy) in zip(CALLOUT_TEXT, CIRCLES):
    if txt == "t10":
        label = "<i>t<span style='font-size:23px'>10</span></i>"
    else:
        label = "<i>" + txt + "</i>"
    ann.append(dict(text=label, xref="paper", yref="paper", x=px(cx), y=py(cy),
                    xanchor="center", yanchor="middle", showarrow=False,
                    font=dict(family="Liberation Sans", size=28, color="black")))
for (tx, ty), (hx, hy) in ARROWS:
    ann.append(dict(text="", xref="paper", yref="paper", x=px(hx), y=py(hy),
                    ax=tx - hx, ay=ty - hy, axref="pixel", ayref="pixel",
                    showarrow=True, arrowhead=2, arrowsize=1.5, arrowwidth=1.8,
                    arrowcolor="black", standoff=0, startstandoff=0))
layout["annotations"] = ann

fig.update_layout(**layout)
fig.write_html("out.html")
